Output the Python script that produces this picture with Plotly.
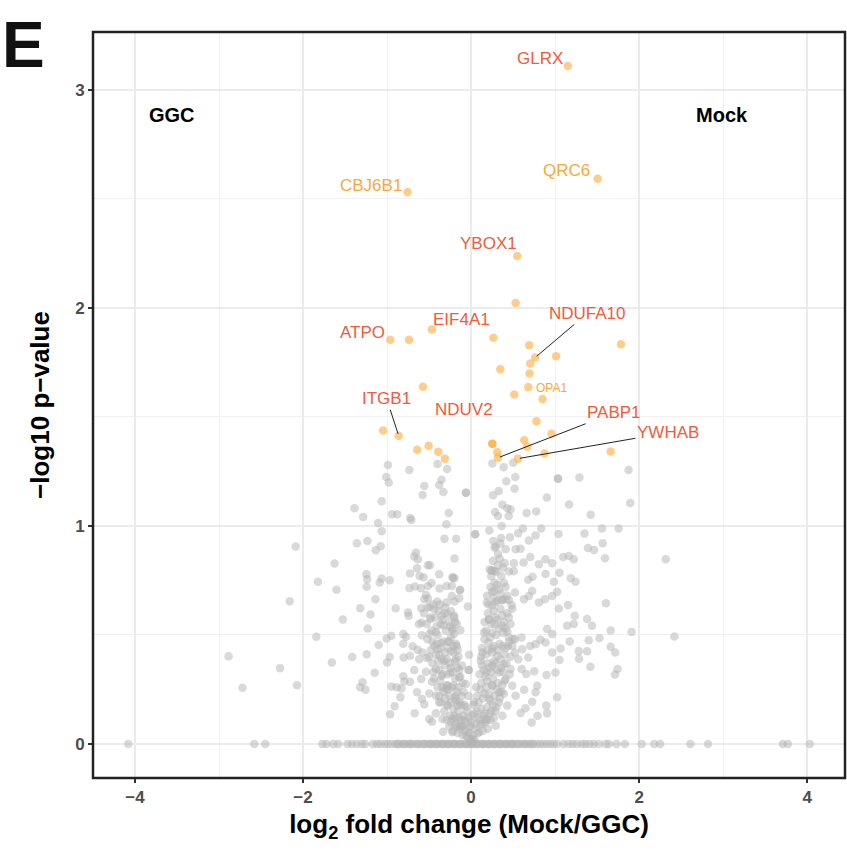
import plotly.graph_objects as go

# ---- background proteins (log2 fold change, -log10 p) ----
left_spread = [
    (-0.99, 1.28), (-0.735, 1.257), (-1.01, 1.225), (-0.98, 1.199), (-0.40, 1.284),
    (-0.285, 1.261), (-0.352, 1.212), (-0.38, 1.188), (-0.557, 1.183), (-0.577, 1.142),
    (-0.329, 1.156), (-0.059, 1.153), (-1.064, 1.113), (-1.388, 1.081), (-1.285, 1.041),
    (-0.941, 1.054), (-0.878, 1.054), (-0.724, 1.037), (-0.712, 1.028), (-0.265, 1.06),
    (-0.293, 1.008), (-1.107, 1.014), (-1.064, 0.976), (0.05, 0.962), (-0.317, 0.942),
    (-0.178, 0.941), (-1.36, 0.921), (-1.234, 0.931), (-2.088, 0.906), (-1.076, 0.907),
    (-1.135, 0.889), (-0.656, 0.878), (-0.676, 0.86), (-0.633, 0.847), (-0.198, 0.851),
    (-0.514, 0.82), (-0.49, 0.82), (-1.625, 0.828), (-0.644, 0.806), (-0.727, 0.782),
    (-0.613, 0.771), (-0.566, 0.765), (-0.38, 0.779), (-0.222, 0.764), (-0.198, 0.76),
    (-1.246, 0.779), (-1.237, 0.756), (-1.064, 0.759), (-1.088, 0.741), (-0.969, 0.751),
    (-1.823, 0.744), (-1.242, 0.721), (-0.735, 0.715), (-0.668, 0.722), (-0.597, 0.715),
    (-0.514, 0.725), (-0.471, 0.738), (-0.376, 0.713), (-0.293, 0.725), (-0.229, 0.725),
    (-0.134, 0.705), (-1.602, 0.707), (-0.537, 0.684), (-0.557, 0.664), (-0.514, 0.667),
    (-0.403, 0.654), (-0.229, 0.679), (-0.142, 0.669), (-0.198, 0.654), (-1.139, 0.664),
    (-2.159, 0.655), (-0.593, 0.623), (-0.518, 0.626), (-0.439, 0.618), (-0.312, 0.626),
    (-0.039, 0.631), (-0.898, 0.623), (-1.32, 0.623), (-1.198, 0.594), (-0.751, 0.603),
    (-0.743, 0.588), (-0.281, 0.596), (-0.348, 0.588), (-0.202, 0.588), (-0.486, 0.573),
    (-1.527, 0.571), (-0.589, 0.556), (-0.328, 0.545), (-0.253, 0.539), (-0.19, 0.56),
    (-0.127, 0.522), (-1.23, 0.53), (-0.419, 0.514), (-0.494, 0.505), (-0.585, 0.499),
    (-0.222, 0.522), (-0.202, 0.505), (-1.842, 0.492), (-1.005, 0.484), (-0.949, 0.496),
    (-0.807, 0.504), (-0.775, 0.492), (-0.459, 0.469), (-0.356, 0.463), (-0.277, 0.47),
    (-0.17, 0.449), (-0.807, 0.46), (-0.696, 0.448), (-1.1, 0.454), (-0.637, 0.432),
    (-0.40, 0.435), (-0.241, 0.425), (-0.803, 0.397), (-0.727, 0.405), (-0.617, 0.389),
    (-0.526, 0.395), (-0.38, 0.408), (-0.32, 0.382), (-0.182, 0.389), (-0.024, 0.409),
    (-1.242, 0.412), (-1.415, 0.399), (-1.657, 0.374), (-0.969, 0.399), (-1.0, 0.374),
    (-2.886, 0.402), (-2.274, 0.347), (-2.72, 0.258), (-2.072, 0.269), (-1.147, 0.327),
    (-0.807, 0.311), (-0.676, 0.339), (-0.537, 0.331), (-0.419, 0.344), (-0.348, 0.313),
    (-0.249, 0.328), (-0.142, 0.305), (-0.024, 0.339), (-0.795, 0.287), (-0.727, 0.285),
    (-0.593, 0.298), (-0.466, 0.285), (-0.281, 0.267), (-0.063, 0.275), (-1.293, 0.283),
    (-1.32, 0.26), (-1.257, 0.249), (-0.949, 0.264), (-0.83, 0.255), (-0.886, 0.26),
    (-0.644, 0.237), (-0.498, 0.232), (-0.419, 0.221), (-0.182, 0.221), (-0.842, 0.214),
    (-0.585, 0.206), (-0.557, 0.182), (-0.91, 0.173), (-0.38, 0.191), (-0.281, 0.176),
    (-0.672, 0.141), (-0.964, 0.136), (-0.498, 0.115), (-0.466, 0.102), (-0.419, 0.141),
    (-0.332, 0.056), (-0.222, 0.115), (-0.103, 0.084),
]

right_spread = [
    (0.253, 1.287), (0.388, 1.269), (0.502, 1.29), (0.526, 1.225), (0.419, 1.205),
    (0.518, 1.171), (0.329, 1.16), (0.261, 1.141), (-0.063, 1.153), (1.032, 1.219),
    (1.036, 1.216), (1.289, 1.223), (1.874, 1.257), (0.902, 1.131), (1.166, 1.099),
    (1.894, 1.105), (0.372, 1.098), (0.431, 1.081), (0.47, 1.076), (0.285, 1.064),
    (0.32, 1.046), (0.447, 1.046), (0.661, 1.06), (0.775, 1.067), (1.423, 1.052),
    (0.364, 1.0), (0.217, 0.979), (0.617, 0.988), (0.561, 0.967), (0.834, 0.988),
    (1.04, 0.963), (1.349, 0.965), (1.558, 0.988), (1.756, 0.988), (0.047, 0.962),
    (0.265, 0.931), (0.356, 0.945), (0.463, 0.948), (0.293, 0.906), (0.32, 0.872),
    (0.411, 0.893), (0.53, 0.893), (0.589, 0.896), (0.688, 0.933), (0.767, 0.956),
    (1.391, 0.899), (1.463, 0.89), (1.566, 0.921), (1.593, 0.852), (2.317, 0.847),
    (0.241, 0.794), (0.247, 0.797), (0.281, 0.794), (0.451, 0.791), (0.506, 0.792),
    (0.51, 0.829), (0.625, 0.832), (0.704, 0.858), (0.807, 0.825), (0.886, 0.847),
    (0.965, 0.829), (1.095, 0.858), (1.163, 0.862), (1.222, 0.847), (0.886, 0.78),
    (1.052, 0.786), (1.186, 0.76), (1.242, 0.744), (0.985, 0.744), (0.68, 0.753),
    (0.731, 0.767), (-0.214, 0.764), (-0.13, 0.707), (0.522, 0.695), (0.273, 0.70),
    (0.312, 0.658), (0.372, 0.661), (0.411, 0.664), (0.482, 0.638), (0.186, 0.649),
    (0.253, 0.634), (0.629, 0.664), (0.688, 0.679), (0.727, 0.702), (0.807, 0.649),
    (0.878, 0.664), (0.965, 0.679), (1.024, 0.698), (1.044, 0.622), (1.154, 0.638),
    (1.234, 0.588), (1.222, 0.55), (1.142, 0.542), (1.38, 0.573), (1.439, 0.542),
    (1.605, 0.646), (1.661, 0.521), (1.91, 0.514), (2.42, 0.493), (1.527, 0.486),
    (1.40, 0.476), (1.174, 0.47), (1.281, 0.426), (1.38, 0.425), (1.285, 0.391),
    (1.42, 0.354), (1.661, 0.446), (1.716, 0.42), (1.744, 0.344), (1.712, 0.319),
    (0.905, 0.527), (0.965, 0.504), (0.826, 0.478), (0.886, 0.466), (0.767, 0.458),
    (1.064, 0.438), (0.965, 0.42), (1.052, 0.385), (1.004, 0.328), (0.898, 0.316),
    (1.024, 0.214), (0.905, 0.141), (0.894, 0.176), (0.72, 0.099), (0.791, 0.13),
    (0.767, 0.237), (0.787, 0.267), (0.632, 0.249), (0.727, 0.194), (0.589, 0.142),
    (0.648, 0.164), (0.656, 0.321), (0.751, 0.334), (0.601, 0.344), (0.561, 0.389),
    (0.68, 0.397), (0.522, 0.42), (0.609, 0.435), (0.704, 0.45), (0.522, 0.481),
    (0.601, 0.489), (0.451, 0.469), (0.372, 0.45), (0.431, 0.516), (0.372, 0.542),
    (0.285, 0.548), (0.214, 0.573), (0.154, 0.512), (0.205, 0.466), (0.253, 0.438),
    (0.134, 0.42), (0.115, 0.382), (0.312, 0.405), (0.253, 0.359), (0.391, 0.366),
    (0.47, 0.344), (0.332, 0.328), (0.182, 0.328), (-0.032, 0.339), (0.036, 0.191),
    (0.411, 0.298), (0.49, 0.267), (0.53, 0.221), (0.431, 0.176), (0.332, 0.237),
    (0.253, 0.267), (0.214, 0.206), (0.372, 0.13), (0.293, 0.084), (0.174, 0.115),
    (0.095, 0.054), (-0.34, 0.115), (-0.222, 0.054), (-0.162, 0.176), (-0.30, 0.252),
    (-0.142, 0.084), (-0.063, 0.038), (0.015, 0.023),
]

# dense centre of the volcano
core = [
    (-0.52, 0.48), (-0.47, 0.52), (-0.44, 0.45), (-0.40, 0.50), (-0.36, 0.55), (-0.33, 0.47),
    (-0.30, 0.52), (-0.27, 0.44), (-0.24, 0.49), (-0.21, 0.42), (-0.18, 0.46), (-0.15, 0.40),
    (-0.50, 0.40), (-0.46, 0.37), (-0.42, 0.41), (-0.38, 0.34), (-0.35, 0.39), (-0.31, 0.36),
    (-0.28, 0.32), (-0.25, 0.37), (-0.22, 0.33), (-0.19, 0.30), (-0.16, 0.35), (-0.13, 0.31),
    (-0.10, 0.28), (-0.44, 0.30), (-0.40, 0.26), (-0.37, 0.29), (-0.33, 0.24), (-0.29, 0.27),
    (-0.26, 0.22), (-0.23, 0.26), (-0.20, 0.21), (-0.17, 0.24), (-0.14, 0.19), (-0.11, 0.22),
    (-0.08, 0.18), (-0.36, 0.19), (-0.32, 0.15), (-0.28, 0.18), (-0.25, 0.13), (-0.21, 0.16),
    (-0.18, 0.12), (-0.15, 0.15), (-0.12, 0.11), (-0.09, 0.13), (-0.06, 0.10), (-0.26, 0.08),
    (-0.22, 0.06), (-0.19, 0.09), (-0.16, 0.05), (-0.13, 0.07), (-0.10, 0.04), (-0.07, 0.06),
    (-0.04, 0.03), (-0.02, 0.05), (-0.56, 0.60), (-0.49, 0.63), (-0.43, 0.58), (-0.37, 0.64),
    (-0.31, 0.60), (-0.26, 0.56), (-0.20, 0.58), (-0.62, 0.55), (-0.58, 0.42),
    (0.02, 0.04), (0.05, 0.07), (0.08, 0.05), (0.11, 0.09), (0.14, 0.06), (0.17, 0.10),
    (0.20, 0.07), (0.23, 0.11), (0.04, 0.14), (0.08, 0.12), (0.12, 0.16), (0.15, 0.13),
    (0.19, 0.17), (0.22, 0.14), (0.26, 0.18), (0.29, 0.15), (0.33, 0.19), (0.07, 0.22),
    (0.11, 0.25), (0.14, 0.21), (0.18, 0.26), (0.21, 0.23), (0.25, 0.27), (0.28, 0.22),
    (0.32, 0.28), (0.36, 0.24), (0.40, 0.29), (0.10, 0.32), (0.13, 0.36), (0.17, 0.31),
    (0.20, 0.37), (0.24, 0.33), (0.27, 0.38), (0.31, 0.34), (0.35, 0.39), (0.38, 0.33),
    (0.42, 0.37), (0.46, 0.32), (0.13, 0.44), (0.16, 0.48), (0.20, 0.43), (0.23, 0.49),
    (0.27, 0.45), (0.30, 0.50), (0.34, 0.46), (0.38, 0.51), (0.41, 0.44), (0.45, 0.49),
    (0.49, 0.45), (0.16, 0.56), (0.20, 0.60), (0.24, 0.55), (0.27, 0.61), (0.31, 0.57),
    (0.35, 0.62), (0.39, 0.56), (0.43, 0.60), (0.47, 0.55), (0.19, 0.68), (0.23, 0.72),
    (0.27, 0.67), (0.31, 0.73), (0.35, 0.69), (0.39, 0.74), (0.43, 0.68), (0.22, 0.80),
    (0.26, 0.84), (0.30, 0.79), (0.34, 0.85), (0.38, 0.81), (-0.05, 0.15), (0.0, 0.10),
    (0.03, 0.18), (-0.03, 0.22), (0.01, 0.01), (-0.01, 0.02), (0.04, 0.02),
]

core_inner = [
    (-0.29, 0.11), (-0.24, 0.10), (-0.20, 0.13), (-0.17, 0.08), (-0.14, 0.12), (-0.11, 0.08),
    (-0.08, 0.11), (-0.05, 0.07), (-0.03, 0.12), (-0.01, 0.08), (-0.38, 0.22), (-0.34, 0.26),
    (-0.31, 0.21), (-0.27, 0.25), (-0.24, 0.19), (-0.21, 0.27), (-0.18, 0.20), (-0.15, 0.26),
    (-0.12, 0.18), (-0.09, 0.24), (-0.06, 0.17), (-0.48, 0.43), (-0.45, 0.33), (-0.41, 0.46),
    (-0.39, 0.38), (-0.36, 0.44), (-0.34, 0.32), (-0.31, 0.42), (-0.29, 0.39), (-0.26, 0.47),
    (-0.24, 0.35), (-0.21, 0.45), (-0.19, 0.38), (-0.16, 0.43), (-0.14, 0.34), (-0.11, 0.36),
    (-0.53, 0.55), (-0.48, 0.58), (-0.45, 0.64), (-0.41, 0.54), (-0.39, 0.61), (-0.34, 0.57),
    (-0.29, 0.65), (-0.24, 0.61), (-0.22, 0.53), (-0.17, 0.55),
    (0.01, 0.13), (0.04, 0.09), (0.07, 0.15), (0.10, 0.11), (0.13, 0.09), (0.16, 0.14),
    (0.19, 0.11), (0.24, 0.15), (0.27, 0.12), (0.30, 0.17), (0.06, 0.26), (0.09, 0.19),
    (0.12, 0.28), (0.16, 0.23), (0.19, 0.29), (0.23, 0.20), (0.26, 0.30), (0.30, 0.25),
    (0.34, 0.21), (0.37, 0.27), (0.39, 0.23), (0.12, 0.40), (0.15, 0.34), (0.18, 0.41),
    (0.22, 0.35), (0.25, 0.42), (0.29, 0.37), (0.32, 0.43), (0.36, 0.35), (0.40, 0.41),
    (0.44, 0.45), (0.47, 0.40), (0.50, 0.48), (0.18, 0.52), (0.21, 0.57), (0.25, 0.51),
    (0.29, 0.58), (0.33, 0.53), (0.37, 0.59), (0.41, 0.53), (0.45, 0.58), (0.49, 0.62),
    (0.21, 0.64), (0.25, 0.70), (0.29, 0.65), (0.33, 0.71), (0.37, 0.66), (0.41, 0.72),
    (0.45, 0.66), (0.24, 0.77), (0.28, 0.74), (0.32, 0.82), (0.36, 0.77), (0.40, 0.83),
    (0.28, 0.90), (0.35, 0.92),
]

# proteins with p = 1 (sit on the zero line)
zero_fc = [
    -4.08, -2.58, -2.45, -1.77, -1.72, -1.64, -1.58, -1.47, -1.42, -1.36, -1.30, -1.26,
    -1.17, -1.12, -1.08, -1.03, -0.99, -0.95, -0.90, -0.86, -0.82, -0.78, -0.74, -0.70,
    -0.66, -0.62, -0.58, -0.54, -0.50, -0.47, -0.43, -0.40, -0.36, -0.33, -0.29, -0.26,
    -0.22, -0.19, -0.15, -0.12, -0.08, -0.05, -0.02, 0.02, 0.05, 0.08, 0.12, 0.15, 0.19,
    0.22, 0.26, 0.29, 0.33, 0.36, 0.40, 0.43, 0.47, 0.50, 0.54, 0.58, 0.62, 0.66, 0.70,
    0.74, 0.78, 0.82, 0.86, 0.90, 0.94, 0.98, 1.02, 1.10, 1.16, 1.21, 1.26, 1.32, 1.36,
    1.41, 1.46, 1.52, 1.60, 1.64, 1.73, 1.83, 2.03, 2.18, 2.25, 2.61, 2.82, 3.71, 3.77,
    4.03,
    -0.88, -0.80, -0.72, -0.64, -0.56, -0.48, -0.41, -0.34, -0.27, -0.20, -0.13, -0.06,
    0.00, 0.07, 0.14, 0.21, 0.28, 0.35, 0.42, 0.49, 0.56, 0.64, 0.72,
]

# ---- significant proteins ----
hit_fc = [
    1.151, -0.756, 1.507, 0.55, 0.53, -0.961, -0.739, -0.466, 0.265, 0.692, 1.783, 1.012,
    0.763, 0.704, 0.348, 0.696, 0.68, -0.573, 0.514, 0.85, 0.779, -1.048, -0.862, 0.957,
    0.633, 0.668, 0.253, 0.253, -0.641, -0.506, -0.391, -0.312, 0.312, 0.32, 0.558, 0.874,
    1.661,
]
hit_logp = [
    3.110, 2.532, 2.593, 2.239, 2.023, 1.854, 1.854, 1.901, 1.864, 1.829, 1.834, 1.779,
    1.773, 1.745, 1.719, 1.700, 1.637, 1.639, 1.603, 1.582, 1.480, 1.438, 1.414, 1.423,
    1.393, 1.364, 1.377, 1.377, 1.350, 1.368, 1.341, 1.309, 1.338, 1.313, 1.309, 1.332,
    1.342,
]

# labelled genes: name, fc, -log10 p, colour group, text offset (px), leader line
label_names = ["GLRX", "CBJ6B1", "QRC6", "YBOX1", "EIF4A1", "ATPO", "ITGB1", "NDUV2",
               "NDUFA10", "OPA1", "PABP1", "YWHAB"]
label_fc = [1.151, -0.756, 1.507, 0.55, -0.466, -0.961, -0.862, -0.573,
            0.763, 0.68, 0.32, 0.558]
label_logp = [3.110, 2.532, 2.593, 2.239, 1.901, 1.854, 1.414, 1.639,
              1.773, 1.637, 1.313, 1.309]
label_group = ["red", "orange", "orange", "red", "red", "red", "red", "red",
               "red", "orange", "red", "red"]
label_dx = [-28, -37, -31, -29, 30, -28, -12, 41, 52, 23, 116, 150]
label_dy = [8, 7, 8, 12, 10, 7, 37, -23, 44, -1, 45, 26]
label_line = [False, False, False, False, False, False, True, False, True, False, True, True]
label_size = [17, 17, 17, 17, 17, 17, 17, 17, 17, 12, 17, 17]

group_colour = {"red": "#EF5B3B", "orange": "#F8A93A"}

bg = left_spread + right_spread + core + core_inner
bg_x = [p[0] for p in bg] + zero_fc
bg_y = [p[1] for p in bg] + [0.0] * len(zero_fc)

fig = go.Figure()
fig.add_trace(go.Scatter(
    x=bg_x, y=bg_y, mode="markers", hoverinfo="skip",
    marker=dict(size=8.5, color="rgba(180,180,180,0.5)", line=dict(width=0)),
))
fig.add_trace(go.Scatter(
    x=hit_fc, y=hit_logp, mode="markers", hoverinfo="skip",
    marker=dict(size=8.5, color="rgba(253,172,62,0.6)", line=dict(width=0)),
))

annotations = []
for name, fx, fy, grp, dx, dy, ln, fs in zip(label_names, label_fc, label_logp, label_group,
                                             label_dx, label_dy, label_line, label_size):
    font = dict(family="Liberation Sans, Arial, sans-serif", size=fs, color=group_colour[grp])
    if ln:
        annotations.append(dict(
            x=fx, y=fy, xref="x", yref="y", text=name, showarrow=True,
            ax=dx, ay=-dy, arrowhead=0, arrowwidth=1, arrowcolor="#222222",
            standoff=2, font=font, borderpad=1,
        ))
    else:
        annotations.append(dict(
            x=fx, y=fy, xref="x", yref="y", text=name, showarrow=False,
            xshift=dx, yshift=dy, font=font,
        ))

bold = "Liberation Sans Narrow, Liberation Sans, Arial, sans-serif"
annotations += [
    dict(x=-3.56, y=2.886, xref="x", yref="y", text="<b>GGC</b>", showarrow=False,
         font=dict(family="Liberation Sans, Arial", size=20, color="black")),
    dict(x=2.99, y=2.886, xref="x", yref="y", text="<b>Mock</b>", showarrow=False,
         font=dict(family="Liberation Sans, Arial", size=20, color="black")),
    dict(x=-0.092, y=0.983, xref="paper", yref="paper", text="<b>E</b>", showarrow=False,
         xanchor="center", yanchor="middle",
         font=dict(family="Liberation Sans, Arial", size=64, color="#111111")),
]

axis_common = dict(
    showline=False, zeroline=False, ticks="outside", ticklen=4, tickwidth=1.5,
    tickcolor="#333333", showgrid=True, gridcolor="#EBEBEB", gridwidth=2,
    tickfont=dict(family=bold, size=17, color="#4D4D4D"),
)

fig.update_layout(
    width=847, height=860, plot_bgcolor="white", paper_bgcolor="white",
    margin=dict(l=93, r=2, t=32, b=82), showlegend=False,
    xaxis=dict(
        range=[-4.5, 4.45], tickvals=[-4, -2, 0, 2, 4],
        ticktext=["<b>\u22124</b>", "<b>\u22122</b>", "<b>0</b>", "<b>2</b>", "<b>4</b>"],
        minor=dict(dtick=1, tick0=0, showgrid=True, gridcolor="#F1F1F1", gridwidth=1, ticks=""),
        title=dict(text="<b>log<sub>2</sub> fold change (Mock/GGC)</b>", standoff=8,
                   font=dict(family=bold, size=26, color="black")),
        **axis_common,
    ),
    yaxis=dict(
        range=[-0.156, 3.266], tickvals=[0, 1, 2, 3],
        ticktext=["<b>0</b>", "<b>1</b>", "<b>2</b>", "<b>3</b>"],
        minor=dict(dtick=0.5, tick0=0, showgrid=True, gridcolor="#F1F1F1", gridwidth=1, ticks=""),
        title=dict(text="<b>\u2212log10 p\u2212value</b>", standoff=18,
                   font=dict(family=bold, size=26, color="black")),
        **axis_common,
    ),
    annotations=annotations,
    shapes=[dict(type="rect", xref="paper", yref="paper", x0=0, y0=0, x1=1, y1=1,
                 line=dict(color="#222222", width=2.5), layer="above")],
)

fig.write_html("out.html")
